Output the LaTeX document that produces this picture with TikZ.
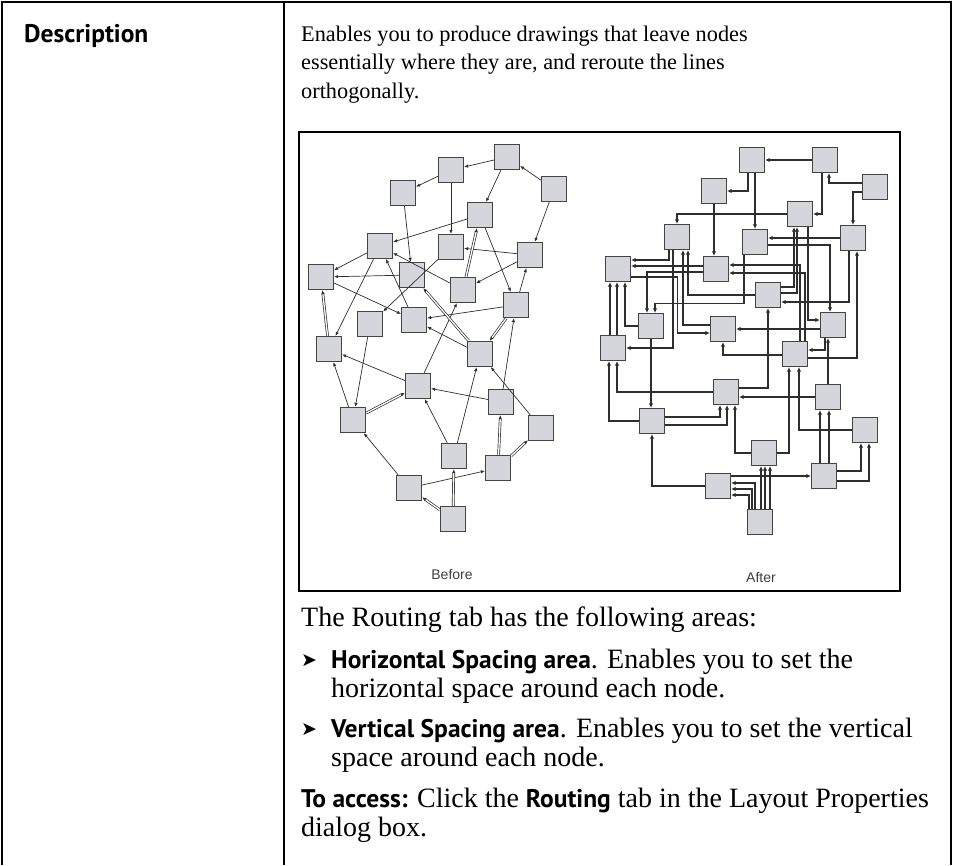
\documentclass[tikz,border=0pt]{standalone}
\usepackage{fontspec}
\setmainfont{Liberation Serif}
\setsansfont{PT Sans}
\newfontfamily\symfont{DejaVu Sans}
\newfontfamily\capfont{Liberation Sans}
\usetikzlibrary{arrows.meta}
\definecolor{boxfill}{HTML}{D4D6DB}
\definecolor{boxline}{HTML}{444444}
\definecolor{edgeline}{HTML}{2E2E2E}
\newcommand{\uibold}[1]{{\fontsize{25.5}{29}\sffamily\bfseries #1}}

\begin{document}
\begin{tikzpicture}[x=1pt, y=-1pt,
    gnode/.style={rectangle, draw=boxline, fill=boxfill, line width=1.3pt, minimum size=25pt, inner sep=0pt},
    bedge/.style={draw=edgeline, line width=0.7pt, -{Latex[length=4pt,width=3.5pt]}},
    dedge/.style={bedge, double=white, double distance=1.3pt},
    aedge/.style={draw=edgeline, line width=1.1pt, -{Latex[length=4.5pt,width=4.5pt]}},
    toptext/.style={anchor=base west, inner sep=0pt, font=\fontsize{22.3}{28}\selectfont},
    bodytext/.style={anchor=base west, inner sep=0pt, font=\fontsize{28}{29}\selectfont},
    headtext/.style={anchor=base west, inner sep=0pt, font=\fontsize{25.5}{29}\sffamily\bfseries},
    bullet/.style={anchor=base west, inner sep=0pt, font=\fontsize{19}{20}\symfont},
    captext/.style={inner sep=0pt, text=black!75, font=\fontsize{14}{16}\capfont},
    rule/.style={line width=1.8pt}]
    \useasboundingbox (0,0) rectangle (953,865);

    % table frame
    \draw[rule] (2,865) -- (2,2) -- (951,2) -- (951,865);
    \draw[rule] (284,2) -- (284,865);

    % text of the cells
    \node[headtext] (head) at (24,42) {Description};
    \node[toptext] (d1) at (301,41) {Enables you to produce drawings that leave nodes};
    \node[toptext] (d2) at (301,69.5) {essentially where they are, and reroute the lines};
    \node[toptext] (d3) at (301,98) {orthogonally.};

    \node[bodytext] (r1) at (301,626) {The Routing tab has the following areas:};
    \node[bullet] (bul1) at (301,666) {➤};
    \node[bodytext] (h1) at (331,668) {\uibold{Horizontal Spacing area}. Enables you to set the};
    \node[bodytext] (h2) at (331,697) {horizontal space around each node.};
    \node[bullet] (bul2) at (301,735) {➤};
    \node[bodytext] (v1) at (331,737) {\uibold{Vertical Spacing area}. Enables you to set the vertical};
    \node[bodytext] (v2) at (331,766) {space around each node.};
    \node[bodytext] (acc1) at (301,807) {\uibold{To access:} Click the \uibold{Routing} tab in the Layout Properties};
    \node[bodytext] (acc2) at (301,836) {dialog box.};

    % picture frame
    \draw[line width=1.6pt] (299,132) rectangle (900,591);

    % before
    \foreach \n/\x/\y in {b1/507/157, b2/451/170, b3/403/193, b4/554/189, b5/480/215,
        b6/380/246, b7/451/247, b8/530/255, b9/321/277, b10/412/275, b11/463/290,
        b12/516/305, b13/370/324, b14/414/320, b15/329/349, b16/480/354, b17/418/386,
        b18/501/402, b19/353/420, b20/541/428, b21/454/456, b22/498/468, b23/409/488,
        b24/453/519}
        \node[gnode] (\n) at (\x,\y) {};
    \foreach \s/\t in {b1/b2, b2/b3, b4/b1, b1/b5, b4/b8, b2/b7, b3/b10, b5/b6, b8/b7,
        b8/b11, b6/b9, b10/b9, b9/b14, b6/b15, b14/b6, b7/b13, b11/b6, b5/b12, b12/b8,
        b12/b14, b16/b14, b17/b11, b17/b15, b18/b17, b19/b15, b13/b19, b18/b12,
        b20/b16, b21/b16, b21/b17, b23/b19, b23/b22}
        \draw[bedge] (\s) -- (\t);
    \foreach \s/\t in {b16/b10, b11/b5, b12/b16, b19/b17, b15/b9, b22/b18, b22/b20,
        b24/b21, b24/b23}
        \draw[dedge] (\s) -- (\t);
    \node[captext] (before) at (452,574) {Before};

    % after
    \foreach \n/\x/\y in {a1/752/160, a2/825/160, a3/714/191, a4/875/187, a5/800/214,
        a6/677/237, a7/755/242, a8/853/238, a9/618/269, a10/716/269, a11/768/295,
        a12/651/326, a13/723/329, a14/833/325, a15/613/348, a16/795/354, a17/726/392,
        a18/828/397, a19/652/421, a20/865/430, a21/764/453, a22/718/486, a23/824/476,
        a24/760/522}
        \node[gnode] (\n) at (\x,\y) {};
    \draw[aedge] (a2.west) -- (a1.east);
    \draw[aedge] ([xshift=-4pt]a1.south) |- (a3.east);
    \draw[aedge] (a7.north |- a1.south) -- (a7.north);
    \draw[aedge] ([yshift=4pt]a4.west) -| ([xshift=4pt]a2.south);
    \draw[aedge] ([xshift=-3pt]a2.south) |- (a5.east);
    \draw[aedge] ([yshift=-5pt]a4.west) -| (a8.north);
    \draw[aedge] (a5.west) -| (a6.north);
    \draw[aedge] (a3.south) -- (a3.south |- a10.north);
    \draw[aedge] (a8.west) -- (a8.west -| a7.east);
    \draw[aedge] ([yshift=-3pt]a7.east) -| ([xshift=-3pt]a14.north);
    \draw[aedge] ([xshift=-8pt]a6.south) |- ([yshift=9pt]a9.east);
    \draw[aedge] ([yshift=3pt]a10.west) -- ([yshift=3pt]a9.east);
    \draw[aedge] ([xshift=5pt]a16.north) |- ([yshift=4pt]a10.east);
    \draw[aedge] ([xshift=10pt]a16.north) |- ([yshift=-4pt]a10.east);
    \draw[aedge] ([yshift=-3pt]a10.west) -| ([xshift=-4pt]a12.north);
    \draw[aedge] ([xshift=-11pt]a7.south) -- ++(0,48) -| ([xshift=4pt]a12.north);
    \draw[aedge] ([yshift=-8pt]a9.east) -- ++(46,0) |- ([yshift=-4pt]a13.west);
    \draw[aedge] ([yshift=4pt]a13.west) -| ([xshift=6pt]a6.south);
    \draw[aedge] (a11.west) -| ([xshift=11pt]a6.south);
    \draw[aedge] ([xshift=-3pt]a15.north) -- ([xshift=-3pt]a15.north |- a9.south);
    \draw[aedge] ([xshift=4pt]a15.north) -- ([xshift=4pt]a15.north |- a9.south);
    \draw[aedge] (a12.west) -| ([xshift=7pt]a9.south);
    \draw[aedge] ([xshift=-4pt]a6.south) |- (a15.east);
    \draw[aedge] (a19.west) -| ([xshift=-4pt]a15.south);
    \draw[aedge] (a17.west) -| ([xshift=4pt]a15.south);
    \draw[aedge] (a12.south) -- (a12.south |- a19.north);
    \draw[aedge] ([yshift=4pt]a19.east) -| ([xshift=-6pt]a17.south);
    \draw[aedge] ([yshift=-4pt]a19.east) -| ([xshift=1pt]a17.south);
    \draw[aedge] (a21.west) -| ([xshift=9pt]a17.south);
    \draw[aedge] ([yshift=4pt]a17.east) -| (a11.south);
    \draw[aedge] (a18.west) -- (a18.west -| a17.east);
    \draw[aedge] (a18.north) -- (a18.north |- a14.south);
    \draw[aedge] ([xshift=-4pt]a23.north) -- ([xshift=-4pt]a23.north |- a18.south);
    \draw[aedge] ([xshift=5pt]a23.north) -- ([xshift=5pt]a23.north |- a18.south);
    \draw[aedge] ([xshift=-8pt]a14.south) |- ([yshift=4pt]a16.east);
    \draw[aedge] ([yshift=-4pt]a16.east) -| ([xshift=4pt]a8.south);
    \draw[aedge] ([xshift=-4pt]a8.south) |- ([yshift=-7pt]a11.east);
    \draw[aedge] ([yshift=-4pt]a14.west) -- ([yshift=-4pt]a14.west -| a13.east);
    \draw[aedge] ([yshift=-1pt]a16.west) -| (a13.south);
    \draw[aedge] (a21.east) -| ([xshift=-6pt]a16.south);
    \draw[aedge] (a20.west) -| ([xshift=4pt]a16.south);
    \draw[aedge] ([yshift=8pt]a11.east) -| ([xshift=-6pt]a5.south);
    \draw[aedge] ([yshift=2pt]a11.east) -| ([xshift=-3pt]a5.south);
    \draw[aedge] ([xshift=8pt]a5.south) |- ([yshift=5pt]a14.west);
    \draw[aedge] (a22.west) -| (a19.south);
    \foreach \dx in {1,5,10}
        \draw[aedge] ([xshift=\dx pt]a24.north) -- ([xshift=\dx pt]a24.north |- a21.south);
    \draw[aedge] ([xshift=-11pt]a24.north) |- ([yshift=-9pt]a22.east);
    \draw[aedge] ([xshift=-8pt]a24.north) |- ([yshift=-3pt]a22.east);
    \draw[aedge] ([xshift=-5pt]a24.north) |- ([yshift=3pt]a22.east);
    \draw[aedge] (a23.west -| a22.east) -- (a23.west);
    \draw[aedge] ([yshift=5pt]a23.east) -| ([xshift=-4pt]a20.south);
    \draw[aedge] ([yshift=-5pt]a23.east) -| ([xshift=4pt]a20.south);
    \node[captext] (after) at (761,577) {After};
\end{tikzpicture}
\end{document}
